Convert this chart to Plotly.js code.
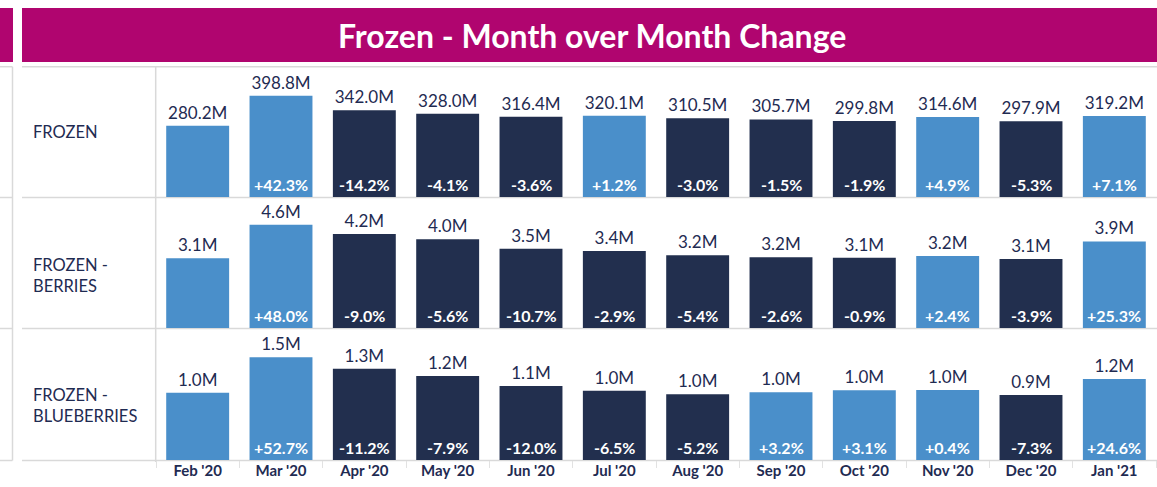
<!DOCTYPE html>
<html>
<head>
<meta charset="utf-8">
<script src="https://cdn.plot.ly/plotly-3.0.1.min.js"></script>
<style>html,body{margin:0;padding:0;background:#fff;}#chart{width:1157px;height:487px;}</style>
</head>
<body>
<div id="chart"></div>
<script>
const months = ["Feb '20","Mar '20","Apr '20","May '20","Jun '20","Jul '20","Aug '20","Sep '20","Oct '20","Nov '20","Dec '20","Jan '21"];
const rowLabels = ["FROZEN", "FROZEN -<br>BERRIES", "FROZEN -<br>BLUEBERRIES"];
const frozen = [280.2, 398.8, 342.0, 328.0, 316.4, 320.1, 310.5, 305.7, 299.8, 314.6, 297.9, 319.2];
const frozenPct = [null, 42.3, -14.2, -4.1, -3.6, 1.2, -3.0, -1.5, -1.9, 4.9, -5.3, 7.1];
const berries = [3.112, 4.606, 4.191, 3.957, 3.533, 3.431, 3.245, 3.161, 3.133, 3.208, 3.083, 3.863];
const berriesPct = [null, 48.0, -9.0, -5.6, -10.7, -2.9, -5.4, -2.6, -0.9, 2.4, -3.9, 25.3];
const blueberries = [0.980, 1.496, 1.329, 1.224, 1.077, 1.007, 0.956, 0.985, 1.016, 1.020, 0.946, 1.178];
const blueberriesPct = [null, 52.7, -11.2, -7.9, -12.0, -6.5, -5.2, 3.2, 3.1, 0.4, -7.3, 24.6];
const titleText = "Frozen - Month over Month Change";

const W = 1157, H = 487;
const px = x => x / W;
const py = y => (H - y) / H;
const FONT = "Lato, 'Noto Sans', sans-serif";
const NAVY_TXT = "#1f2b52";
const LIGHT = "#4a8fca";
const DARK = "#222f4e";
const MAGENTA = "#b0056f";
const GRID = "#d9d9d9";

const rows = [
  {vals: frozen, pct: frozenPct, ax: "y", axName: "yaxis", dom: [197, 67], max: 512, labelY: 132},
  {vals: berries, pct: berriesPct, ax: "y2", axName: "yaxis2", dom: [328, 198], max: 5.80, labelY: 275},
  {vals: blueberries, pct: blueberriesPct, ax: "y3", axName: "yaxis3", dom: [460, 329], max: 1.907, labelY: 405}
];

const traces = [];
const annotations = [];
const layout = {
  width: W, height: H,
  margin: {l: 0, r: 0, t: 0, b: 0},
  paper_bgcolor: "#fff", plot_bgcolor: "rgba(0,0,0,0)",
  showlegend: false,
  bargap: 0.245,
  font: {family: FONT, color: NAVY_TXT},
  xaxis: {
    domain: [px(156), px(1156)], anchor: "y3", type: "category",
    showline: false, showgrid: false, zeroline: false,
    ticks: "outside", tickson: "boundaries", ticklen: 7, tickcolor: "#e2e2e2", tickwidth: 1,
    tickfont: {family: FONT, size: 15, color: NAVY_TXT, weight: "bold"},
    fixedrange: true
  }
};

rows.forEach((r, ri) => {
  layout[r.axName] = {
    domain: [py(r.dom[0]), py(r.dom[1])], range: [0, r.max], anchor: "x",
    visible: false, fixedrange: true
  };
  traces.push({
    type: "bar", x: months, y: r.vals, xaxis: "x", yaxis: r.ax,
    marker: {color: r.pct.map(p => (p === null || p > 0) ? LIGHT : DARK)},
    text: r.vals.map(v => v.toFixed(1) + "M"),
    textposition: "outside", cliponaxis: false, constraintext: "none",
    textfont: {family: FONT, size: 17, color: NAVY_TXT},
    hoverinfo: "skip"
  });
  r.pct.forEach((p, i) => {
    if (p === null) return;
    annotations.push({
      x: months[i], y: 0, xref: "x", yref: r.ax, yanchor: "bottom", yshift: 1,
      showarrow: false,
      text: (p > 0 ? "+" : "") + p.toFixed(1) + "%",
      font: {family: FONT, size: 16, color: "#ffffff", weight: "bold"}
    });
  });
  annotations.push({
    x: px(31), y: py(r.labelY), xref: "paper", yref: "paper", xanchor: "left", yanchor: "middle",
    align: "left", showarrow: false, text: rowLabels[ri],
    font: {family: FONT, size: 16.5, color: NAVY_TXT}
  });
});

annotations.push({
  x: px(592), y: py(36), xref: "paper", yref: "paper", xanchor: "center", yanchor: "middle",
  showarrow: false, text: titleText,
  font: {family: FONT, size: 32, color: "#ffffff", weight: "bold"}
});
layout.annotations = annotations;

const line = (x0, y0, x1, y1) => ({type: "line", xref: "paper", yref: "paper",
  x0: px(x0), y0: py(y0), x1: px(x1), y1: py(y1), line: {color: GRID, width: 1.5}, layer: "below"});
layout.shapes = [
  {type: "rect", xref: "paper", yref: "paper", x0: px(22), x1: 1, y0: py(62), y1: py(8), fillcolor: MAGENTA, line: {width: 0}, layer: "below"},
  {type: "rect", xref: "paper", yref: "paper", x0: 0, x1: px(13), y0: py(62), y1: py(8), fillcolor: MAGENTA, line: {width: 0}, layer: "below"},
  line(22, 66.7, 1157, 66.7), line(0, 66.7, 12.5, 66.7),
  line(22, 197.5, 1157, 197.5), line(0, 197.5, 12.5, 197.5),
  line(22, 328.5, 1157, 328.5), line(0, 328.5, 12.5, 328.5),
  line(22, 460.5, 1157, 460.5), line(0, 460.5, 12.5, 460.5),
  line(155.7, 66.7, 155.7, 462), line(12.5, 66.7, 12.5, 460.5)
];

Plotly.newPlot("chart", traces, layout, {staticPlot: true, displayModeBar: false});
</script>
</body>
</html>
